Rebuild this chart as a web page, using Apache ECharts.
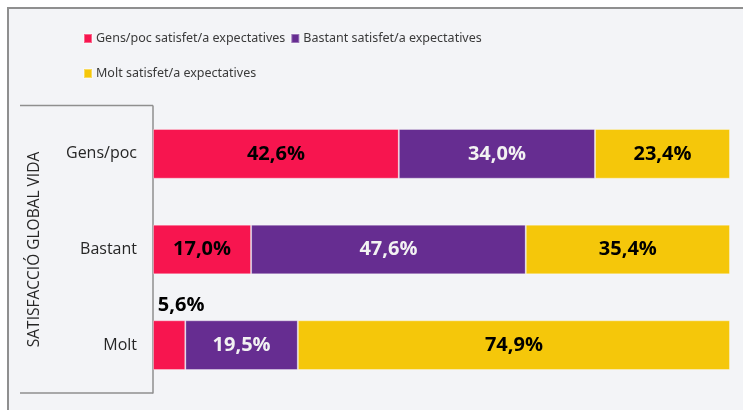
<!DOCTYPE html>
<html>
<head>
<meta charset="utf-8">
<style>
  html, body { margin: 0; padding: 0; background: #ffffff; }
  #chart { width: 743px; height: 410px; }
</style>
<script src="https://cdn.jsdelivr.net/npm/echarts@6/dist/echarts.min.js"></script>
</head>
<body>
<div id="chart"></div>
<script>
// Satisfacció global amb la vida vs. satisfacció d'expectatives (% per fila)
const categories = ['Gens/poc', 'Bastant', 'Molt'];
const seriesNames = [
  'Gens/poc satisfet/a expectatives',
  'Bastant satisfet/a expectatives',
  'Molt satisfet/a expectatives'
];
const gensPocValues = [42.6, 17.0, 5.6];
const bastantValues = [34.0, 47.6, 19.5];
const moltValues = [23.4, 35.4, 74.9];
const axisTitle = 'SATISFACCIÓ GLOBAL VIDA';

const colors = ['#f7154f', '#662d91', '#f5c70a'];
const labelColors = ['#000000', '#f2f2f2', '#000000'];
const uiFont = '"Noto Sans", "Open Sans", sans-serif';
const labelFont = '"Open Sans", "Noto Sans", sans-serif';

const fmt = v => v.toFixed(1).replace('.', ',') + '%';

function makeSeries(name, values, idx) {
  return {
    name: name,
    type: 'bar',
    stack: 'total',
    barWidth: '52%',
    itemStyle: { color: colors[idx], borderColor: 'rgba(255,255,255,0.35)', borderWidth: 1 },
    label: {
      show: true,
      position: 'inside',
      formatter: p => fmt(p.value),
      color: labelColors[idx],
      fontFamily: labelFont,
      fontWeight: 'bold',
      fontSize: 20
    },
    data: values.map(v => {
      // narrow segments get their label above the bar
      if (v < 10) {
        return {
          value: v,
          label: { position: 'top', offset: [12, 0], color: '#000000' }
        };
      }
      return v;
    })
  };
}

const legendStyle = {
  padding: 0,
  itemWidth: 8,
  itemHeight: 9,
  itemGap: 5,
  icon: 'rect',
  textStyle: { fontFamily: uiFont, fontSize: 12.5, color: '#3a3a3a', padding: [0, 0, 0, -1] }
};

const chart = echarts.init(document.getElementById('chart'), null, { renderer: 'canvas' });

chart.setOption({
  backgroundColor: '#ffffff',
  animation: false,
  graphic: [
    {
      type: 'rect',
      z: -10,
      shape: { x: 8, y: 8, width: 760, height: 430 },
      style: { fill: '#f3f4f7', stroke: '#8f8f8f', lineWidth: 2 }
    },
    {
      type: 'line',
      z: 5,
      shape: { x1: 20, y1: 105.5, x2: 153, y2: 105.5 },
      style: { stroke: '#8f8f8f', lineWidth: 1.5 }
    },
    {
      type: 'line',
      z: 5,
      shape: { x1: 20, y1: 393, x2: 153, y2: 393 },
      style: { stroke: '#8f8f8f', lineWidth: 1.5 }
    }
  ],
  legend: [
    Object.assign({ data: [seriesNames[0], seriesNames[1]], left: 83, top: 32 }, legendStyle),
    Object.assign({ data: [seriesNames[2]], left: 83, top: 67 }, legendStyle)
  ],
  grid: { left: 153, right: 13, top: 106, bottom: 17, containLabel: false },
  xAxis: {
    type: 'value',
    min: 0,
    max: 100,
    show: false
  },
  yAxis: {
    type: 'category',
    inverse: true,
    data: categories,
    axisLine: { show: true, lineStyle: { color: '#8f8f8f', width: 1.5 } },
    axisTick: { show: false },
    axisLabel: {
      margin: 16,
      fontFamily: labelFont,
      fontSize: 16,
      color: '#262626'
    },
    name: axisTitle,
    nameLocation: 'middle',
    nameRotate: 90,
    nameGap: 110,
    nameTextStyle: { fontFamily: labelFont, fontSize: 15.5, color: '#262626' }
  },
  series: [
    makeSeries(seriesNames[0], gensPocValues, 0),
    makeSeries(seriesNames[1], bastantValues, 1),
    makeSeries(seriesNames[2], moltValues, 2)
  ]
});
</script>
</body>
</html>
